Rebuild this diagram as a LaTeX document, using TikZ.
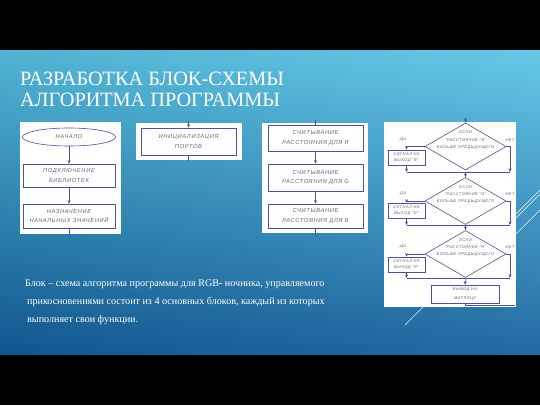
\documentclass[tikz,border=0pt]{standalone}
\usepackage{fontspec}
\setmainfont{Liberation Serif}
\newfontfamily\fcfont[LetterSpace=12]{Liberation Sans}
\usetikzlibrary{shapes.geometric,arrows.meta}
\definecolor{bgtop}{RGB}{88,196,230}
\definecolor{bgbot}{RGB}{18,94,154}
\definecolor{fline}{RGB}{78,82,150}
\definecolor{ftext}{RGB}{100,100,112}
\tikzset{
  panel/.style={fill=white,draw=none},
  fbox/.style={draw=fline,line width=0.6pt,fill=white,align=center,inner sep=0pt,
     font=\fcfont\itshape\fontsize{5.7}{9.5}\selectfont,text=ftext},
  sbox/.style={draw=fline,line width=0.6pt,fill=white,align=center,inner sep=0pt,
     font=\fcfont\itshape\fontsize{4}{6.2}\selectfont,text=ftext,minimum width=37pt,minimum height=15pt},
  dbox/.style={draw=fline,line width=0.6pt,fill=white,diamond,aspect=1.7,inner sep=0pt,
     minimum width=81pt,minimum height=47pt},
  dtext/.style={align=center,font=\fcfont\itshape\fontsize{4}{7.3}\selectfont,text=ftext,inner sep=0pt},
  lbl/.style={font=\fcfont\itshape\fontsize{4}{5}\selectfont,text=ftext,inner sep=0pt},
  fl/.style={draw=fline,line width=0.6pt},
  fa/.style={draw=fline,line width=0.6pt,-{Stealth[length=3.5pt,width=3pt]}},
  deco/.style={draw=white,line width=0.6pt,opacity=0.9},
}
\begin{document}
\begin{tikzpicture}[x=1pt,y=-1pt]
\useasboundingbox (0,0) rectangle (540,405);
\fill[black] (0,0) rectangle (540,405);
\shade[top color=bgtop,bottom color=bgbot] (0,50) rectangle (540,354);
\shade[left color=black,right color=white,opacity=0.08] (0,50) rectangle (540,354);
% decorative lines
\draw[deco] (405,325) -- (540,190);
\draw[deco] (495,239) -- (540,194);
\draw[deco] (500,250) -- (540,210);
% title
\node[anchor=base west,text=white,font=\fontsize{20.3}{21}\selectfont,inner sep=0pt] (t1) at (20,85) {РАЗРАБОТКА БЛОК-СХЕМЫ};
\node[anchor=base west,text=white,font=\fontsize{20.3}{21}\selectfont,inner sep=0pt] (t2) at (20,106) {АЛГОРИТМА ПРОГРАММЫ};
% body text
\node[anchor=base west,text=white,font=\fontsize{10.1}{10}\selectfont,inner sep=0pt] (b1) at (25,286) {Блок – схема алгоритма программы для RGB- ночника, управляемого};
\node[anchor=base west,text=white,font=\fontsize{10.1}{10}\selectfont,inner sep=0pt] (b2) at (27,304) {прикосновениями состоит из 4 основных блоков, каждый из которых};
\node[anchor=base west,text=white,font=\fontsize{10.1}{10}\selectfont,inner sep=0pt] (b3) at (27,322) {выполняет свои функции.};
% panel 1
\fill[panel] (20,122) rectangle (121,234);
\node[draw=fline,line width=0.6pt,ellipse,minimum width=93pt,minimum height=18pt,inner sep=0pt,
  font=\fcfont\itshape\fontsize{5.7}{7}\selectfont,text=ftext] (p1a) at (69,137) {НАЧАЛО};
\node[fbox,minimum width=92pt,minimum height=23pt] (p1b) at (69,175.5) {ПОДКЛЮЧЕНИЕ\\БИБЛИОТЕК};
\node[fbox,minimum width=92pt,minimum height=24pt] (p1c) at (69,216) {НАЗНАЧЕНИЕ\\НАЧАЛЬНЫХ ЗНАЧЕНИЙ};
\coordinate (p1e) at (69,236);
\draw[fa] (p1a) -- (p1b);
\draw[fa] (p1b) -- (p1c);
\draw[fl] (p1c) -- (p1e);
% panel 2
\fill[panel] (136,123) rectangle (242,160);
\node[fbox,minimum width=95pt,minimum height=27pt] (p2a) at (188.5,141.5) {ИНИЦИАЛИЗАЦИЯ\\ПОРТОВ};
\coordinate (p2s) at (188.5,121);
\coordinate (p2e) at (188.5,161);
\draw[fa] (p2s) -- (p2a);
\draw[fl] (p2a) -- (p2e);
% panel 3
\fill[panel] (262,123) rectangle (368,233);
\node[fbox,minimum width=95pt,minimum height=26pt] (p3a) at (315.5,138) {СЧИТЫВАНИЕ\\РАССТОЯНИЯ ДЛЯ R};
\node[fbox,minimum width=95pt,minimum height=27pt] (p3b) at (315.5,177.5) {СЧИТЫВАНИЕ\\РАССТОЯНИЯ ДЛЯ G};
\node[fbox,minimum width=95pt,minimum height=24pt] (p3c) at (315.5,216) {СЧИТЫВАНИЕ\\РАССТОЯНИЯ ДЛЯ B};
\coordinate (p3s) at (315.5,120);
\coordinate (p3e) at (315.5,236);
\draw[fl] (p3s) -- (p3a);
\draw[fa] (p3a) -- (p3b);
\draw[fa] (p3b) -- (p3c);
\draw[fl] (p3c) -- (p3e);
% panel 4
\fill[panel] (384,122) rectangle (516,307);
\coordinate (p4s) at (465.5,118);
% decision 1
\node[dbox] (d1) at (465.5,146.5) {};
\node[dtext] (d1t) at (465.5,140) {ЕСЛИ\\"РАССТОЯНИЕ "B"\\БОЛЬШЕ ПРЕДЫДУЩЕГО};
\node[sbox] (s1) at (406.5,157.5) {СИГНАЛ НА\\ВЫХОД "B"};
\node[lbl] (y1) at (403,140) {ДА};
\node[lbl] (n1) at (510,140) {НЕТ};
\coordinate (m1l) at (406.5,172);
\coordinate (m1c) at (465.5,172);
\coordinate (m1r) at (510,172);
% decision 2
\node[dbox] (d2) at (465.5,201) {};
\node[dtext] (d2t) at (465.5,194.5) {ЕСЛИ\\"РАССТОЯНИЕ "G"\\БОЛЬШЕ ПРЕДЫДУЩЕГО};
\node[sbox] (s2) at (406.5,210.5) {СИГНАЛ НА\\ВЫХОД "G"};
\node[lbl] (y2) at (403,194) {ДА};
\node[lbl] (n2) at (510,194) {НЕТ};
\coordinate (m2l) at (406.5,225);
\coordinate (m2c) at (465.5,225);
\coordinate (m2r) at (510,225);
% decision 3
\node[dbox] (d3) at (465.5,254) {};
\node[dtext] (d3t) at (465.5,247.5) {ЕСЛИ\\"РАССТОЯНИЕ "R"\\БОЛЬШЕ ПРЕДЫДУЩЕГО};
\node[sbox] (s3) at (406.5,264.5) {СИГНАЛ НА\\ВЫХОД "R"};
\node[lbl] (y3) at (403,247) {ДА};
\node[lbl] (n3) at (510,247) {НЕТ};
\coordinate (m3l) at (406.5,278);
\coordinate (m3c) at (465.5,278);
\coordinate (m3r) at (510,278);
% final
\node[sbox,minimum width=68pt,minimum height=18pt,font=\fcfont\itshape\fontsize{4}{9}\selectfont] (fin) at (465,294) {ВЫВОД НА\\МАТРИЦУ};
\coordinate (fine) at (515,305);
% connectors panel 4
\draw[fa] (p4s) -- (d1.north);
\draw[fa] (d1.west) -| (s1.north);
\draw[fa] (s1.south) -- (m1l);
\draw[fa] (d1.east) -| (m1r);
\draw[fl] (m1l) -- (m1r);
\draw[fa] (m1c) -- (d2.north);
\draw[fa] (d2.west) -| (s2.north);
\draw[fa] (s2.south) -- (m2l);
\draw[fa] (d2.east) -| (m2r);
\draw[fl] (m2l) -- (m2r);
\draw[fa] (m2c) -- (d3.north);
\draw[fa] (d3.west) -| (s3.north);
\draw[fa] (s3.south) -- (m3l);
\draw[fa] (d3.east) -| (m3r);
\draw[fl] (m3l) -- (m3r);
\draw[fa] (m3c) -- (fin.north);
\draw[fl] (fin.south) |- (fine);
\end{tikzpicture}
\end{document}
